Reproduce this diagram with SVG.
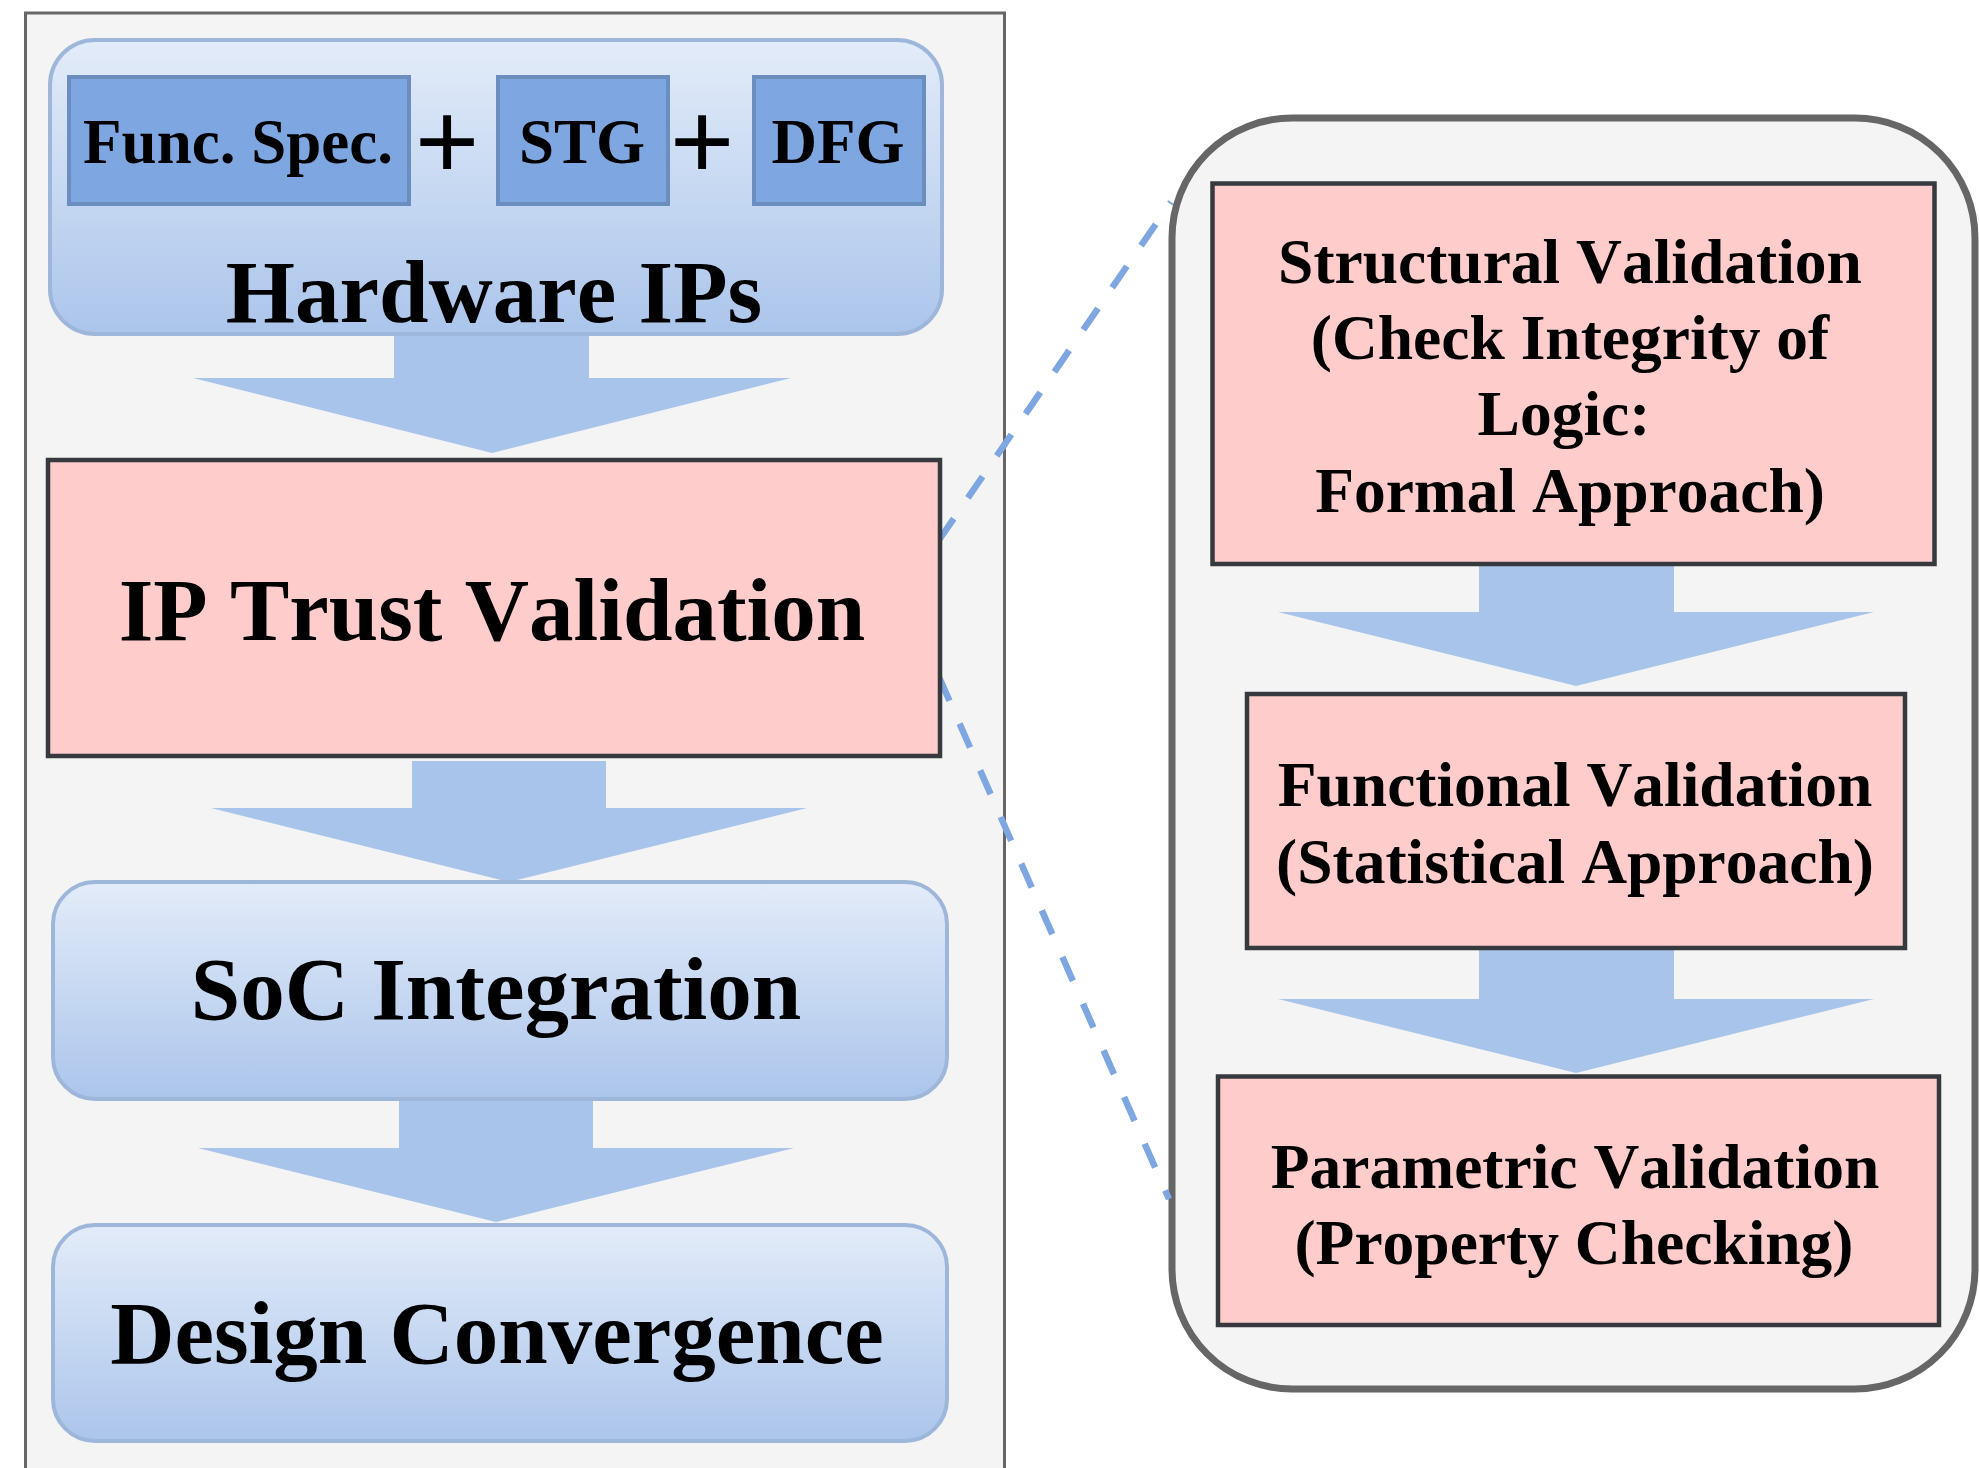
<svg xmlns="http://www.w3.org/2000/svg" width="1979" height="1468" viewBox="0 0 1979 1468">
<defs>
<linearGradient id="blueGrad" x1="0" y1="0" x2="0" y2="1">
<stop offset="0" stop-color="#e3ecf9"/>
<stop offset="1" stop-color="#abc5eb"/>
</linearGradient>
<style>
.frame{fill:#f4f4f4;stroke:#666666;}
.grad{fill:url(#blueGrad);stroke:#9db6da;stroke-width:4;}
.pink{fill:#ffcccc;stroke:#36393d;stroke-width:4.5;}
.blue{fill:#7ea6e0;stroke:#6c8ebf;stroke-width:4;}
.barrow{fill:#a9c4eb;stroke:none;}
.dash{fill:none;stroke:#7ea6e0;stroke-width:6.5;stroke-dasharray:26 25;}
.t{font-family:"Liberation Serif","Times New Roman",serif;font-weight:bold;fill:#000;text-anchor:middle;font-kerning:none;}
.big{font-size:89px;}
.mid{font-size:63.5px;}
.sm{font-size:63px;}
.plus{font-family:"Liberation Sans",Arial,sans-serif;font-size:110px;fill:#000;text-anchor:middle;}
</style>
</defs>
<rect width="1979" height="1468" fill="#ffffff"/>

<g id="left-panel">
<rect class="frame" x="25.5" y="13" width="979" height="1480" stroke-width="3"/>
</g>

<g id="right-panel">
<rect class="frame" x="1172" y="118" width="803" height="1271" rx="120" ry="120" stroke-width="7"/>
</g>

<g id="connectors">
<line class="dash" x1="939" y1="540" x2="1171" y2="202"/>
<line class="dash" x1="939" y1="677" x2="1169" y2="1199"/>
<polygon class="barrow" points="394,333 589,333 589,378 791,378 492,453 193,378 394,378"/>
<polygon class="barrow" points="412,761 606,761 606,808 807,808 509,882 211,808 412,808"/>
<polygon class="barrow" points="399,1099 593,1099 593,1148 794,1148 496,1222 198,1148 399,1148"/>
<polygon class="barrow" points="1479,566 1674,566 1674,612 1874,612 1576,686 1278,612 1479,612"/>
<polygon class="barrow" points="1479,950 1674,950 1674,999 1874,999 1576,1073 1278,999 1479,999"/>
</g>

<g id="hardware-ips">
<rect class="grad" x="50" y="40" width="892" height="294" rx="45" ry="45"/>
<text class="t big" x="494" y="322">Hardware IPs</text>
</g>

<g id="func-spec">
<rect class="blue" x="69" y="77" width="340" height="127"/>
<text class="t sm" x="238" y="163">Func. Spec.</text>
</g>

<g id="plus-1">
<text class="plus" x="447" y="179">+</text>
</g>

<g id="stg">
<rect class="blue" x="498" y="77" width="170" height="127"/>
<text class="t sm" x="582" y="163">STG</text>
</g>

<g id="plus-2">
<text class="plus" x="702" y="179">+</text>
</g>

<g id="dfg">
<rect class="blue" x="754" y="77" width="170" height="127"/>
<text class="t sm" x="838" y="163">DFG</text>
</g>

<g id="ip-trust-validation">
<rect class="pink" x="48" y="460" width="892" height="296"/>
<text class="t big" x="492" y="640">IP Trust Validation</text>
</g>

<g id="soc-integration">
<rect class="grad" x="53" y="882" width="894" height="217" rx="42" ry="42"/>
<text class="t big" x="496" y="1019">SoC Integration</text>
</g>

<g id="design-convergence">
<rect class="grad" x="53" y="1225" width="894" height="216" rx="42" ry="42"/>
<text class="t big" x="497" y="1363">Design Convergence</text>
</g>

<g id="structural-validation">
<rect class="pink" x="1212.5" y="183.5" width="722" height="380.5"/>
<text class="t mid" x="1570" y="283">Structural Validation</text>
<text class="t mid" x="1570" y="359">(Check Integrity of</text>
<text class="t mid" x="1564" y="435">Logic:</text>
<text class="t mid" x="1570" y="512">Formal Approach)</text>
</g>

<g id="functional-validation">
<rect class="pink" x="1247" y="694" width="658" height="254"/>
<text class="t mid" x="1575" y="806">Functional Validation</text>
<text class="t mid" x="1575" y="883">(Statistical Approach)</text>
</g>

<g id="parametric-validation">
<rect class="pink" x="1218" y="1076.5" width="721" height="248.5"/>
<text class="t mid" x="1575" y="1188">Parametric Validation</text>
<text class="t mid" x="1574" y="1264">(Property Checking)</text>
</g>
</svg>
